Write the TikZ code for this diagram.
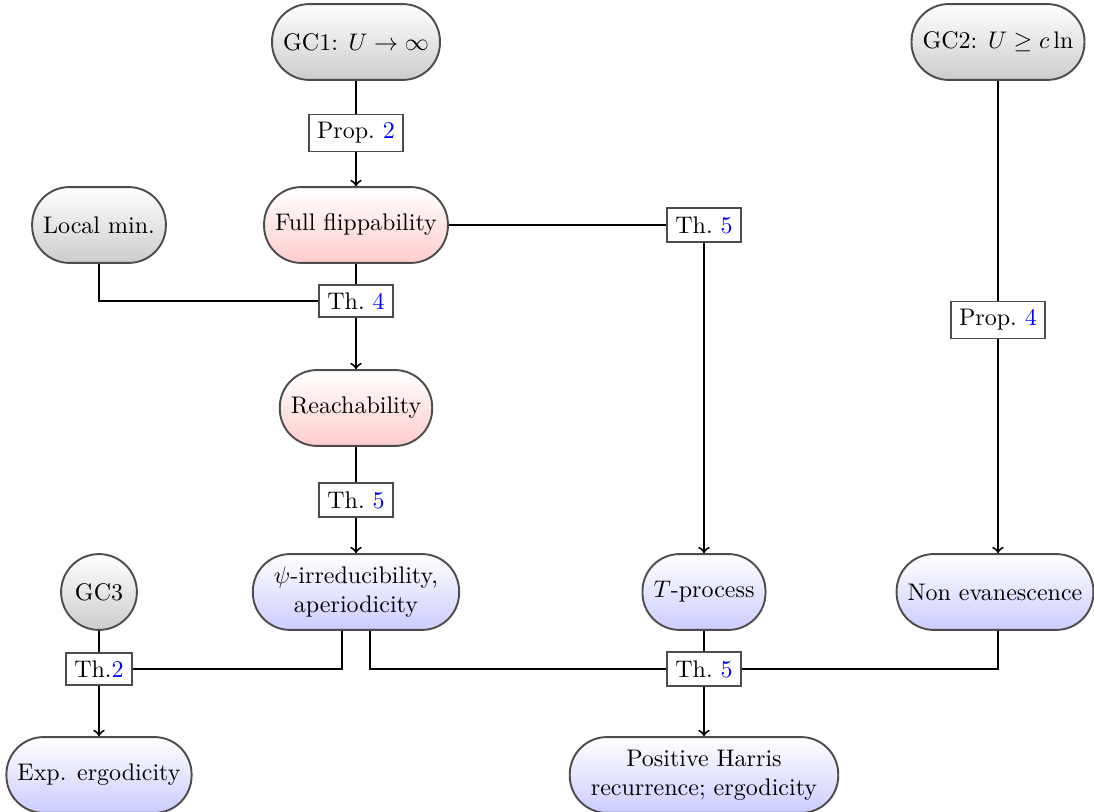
\documentclass[tikz,border=0pt]{standalone}
\usetikzlibrary{calc}
\begin{document}
\begin{tikzpicture}[x=0.41667pt, y=-0.41667pt,
  base/.style={rectangle, rounded corners=15.5pt, minimum height=31.6pt, inner xsep=4.6pt, draw=black!70, thick, align=center},
  wide/.style={inner xsep=8.8pt},
  graynode/.style={base, top color=white, bottom color=black!20},
  rednode/.style={base, top color=white, bottom color=red!20},
  bluenode/.style={base, top color=white, bottom color=blue!20},
  lbl/.style={rectangle, draw=black!70, thick, fill=white},
  conn/.style={draw, thick},
  arr/.style={draw, thick, ->}]
\useasboundingbox (0,0) rectangle (1094,812);
% main nodes
\node[graynode] (gc1) at (356,42) {GC1: $U\to\infty$};
\node[graynode] (gc2) at (998,42) {GC2: $U\geq c\ln$};
\node[graynode] (lm) at (99,225) {Local min.};
\node[rednode] (ff) at (356,225) {Full flippability};
\node[rednode] (reach) at (356,408) {Reachability};
\node[graynode, circle, minimum size=31.6pt, inner sep=1pt] (gc3) at (99,592) {GC3};
\node[bluenode, wide] (psi) at (356,592) {$\psi$-irreducibility,\\aperiodicity};
\node[bluenode] (tp) at (704,592) {$T$-process};
\node[bluenode] (ne) at (995,592) {Non evanescence};
\node[bluenode] (exp) at (99,775) {Exp. ergodicity};
\node[bluenode, wide] (ph) at (704,775) {Positive Harris\\recurrence; ergodicity};
% label boxes
\node[lbl] (p2) at (356,133) {Prop.~\textcolor{blue}{2}};
\node[lbl] (t4) at (356,301) {Th.~\textcolor{blue}{4}};
\node[lbl] (t5a) at (704,225) {Th.~\textcolor{blue}{5}};
\node[lbl] (p4) at (998,320) {Prop.~\textcolor{blue}{4}};
\node[lbl] (t5b) at (356,500) {Th.~\textcolor{blue}{5}};
\node[lbl] (t2) at (99,669) {Th.\textcolor{blue}{2}};
\node[lbl] (t5c) at (704,669) {Th.~\textcolor{blue}{5}};
% helper coordinates
\coordinate (psiL) at ($(psi.south)+(-14,0)$);
\coordinate (psiR) at ($(psi.south)+(14,0)$);
% connectors
\draw[conn] (gc1) -- (p2);
\draw[arr] (p2) -- (ff);
\draw[conn] (ff) -- (t4);
\draw[arr] (t4) -- (reach);
\draw[conn] (lm.south) |- (t4.west);
\draw[conn] (ff.east) -- (t5a.west);
\draw[arr] (t5a) -- (tp);
\draw[conn] (reach) -- (t5b);
\draw[arr] (t5b) -- (psi);
\draw[conn] (gc2) -- (p4);
\draw[arr] (p4) -- (p4 |- ne.north);
\draw[conn] (gc3) -- (t2);
\draw[arr] (t2) -- (exp);
\draw[conn] (psiL) |- (t2.east);
\draw[conn] (psiR) |- (t5c.west);
\draw[conn] (tp) -- (t5c);
\draw[conn] (ne.south -| p4) |- (t5c.east);
\draw[arr] (t5c) -- (ph);
\end{tikzpicture}
\end{document}
